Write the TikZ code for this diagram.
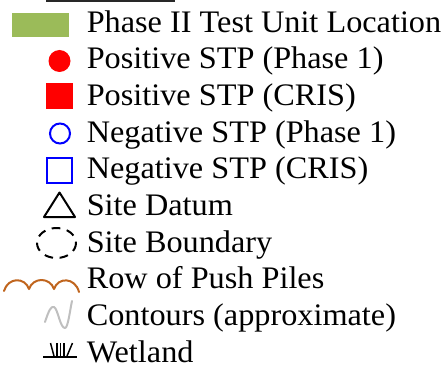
\documentclass[tikz,border=0pt]{standalone}
\usepackage{fontspec}
\setmainfont{Liberation Serif}[FakeStretch=1.03]
\usepackage{tikz}
\usepackage{xcolor}
\usetikzlibrary{shapes,positioning}
\definecolor{unitgreen}{RGB}{155, 187, 89}
\definecolor{pilebrown}{RGB}{192, 101, 30}
\definecolor{contourgray}{RGB}{191, 191, 191}
\definecolor{framegray}{RGB}{40, 40, 40}
\tikzstyle{legendtext} = [
    anchor=base west,
    inner sep=0pt,
    font=\fontsize{23.5}{28}\selectfont
]
\tikzstyle{dot} = [
    circle,
    inner sep=0pt,
    minimum size=16.5pt,
    fill=red
]
\tikzstyle{ring} = [
    circle,
    inner sep=0pt,
    minimum size=15pt,
    draw=blue,
    line width=1.5pt
]
\tikzstyle{block} = [
    rectangle,
    inner sep=0pt,
    minimum size=20pt,
    fill=red
]
\tikzstyle{openblock} = [
    rectangle,
    inner sep=0pt,
    minimum size=18.75pt,
    draw=blue,
    line width=1.5pt
]
\tikzstyle{sym} = [
    line width=1.5pt,
    line cap=round,
    line join=round
]

\begin{document}
\begin{tikzpicture}[x=0.75pt, y=-0.75pt]
    \useasboundingbox (0,0) rectangle (441,367);
    % frame edge left over at the top
    \draw[framegray, line width=1.5pt] (46,1.5) -- (175,1.5);

    % labels
    \foreach \t [count=\i] in {
        Phase II Test Unit Location,
        Positive STP (Phase 1),
        Positive STP (CRIS),
        Negative STP (Phase 1),
        Negative STP (CRIS),
        Site Datum,
        Site Boundary,
        Row of Push Piles,
        Contours (approximate),
        Wetland
    } {
        \node[legendtext] (lbl\i) at (86.5,{32.3+(\i-1)*36.67}) {\t};
    }

    % symbols
    \node[rectangle, inner sep=0pt, minimum width=42.75pt, minimum height=18pt,
        fill=unitgreen] (unit) at (40.5,25) {};
    \node[dot] (posphase) at (59.5,61) {};
    \node[block] (poscris) at (59.5,96) {};
    \node[ring] (negphase) at (60,133.5) {};
    \node[openblock] (negcris) at (59.5,170) {};
    \draw[sym] (59.5,192.5) -- (75,217) -- (44,217) -- cycle;
    \draw[sym, line cap=butt, dash pattern=on 6.5pt off 5pt]
        (56.5,243) ellipse [x radius=19.5, y radius=15];
    \draw[sym, pilebrown] (4,291) .. controls (8,277) and (25,277) .. (29,289)
        .. controls (33,277) and (50,277) .. (54,289)
        .. controls (58,277) and (75,277) .. (79,292);
    \draw[sym, contourgray] (45,322) .. controls (49,310) and (51,306) .. (54,307)
        .. controls (58,309) and (60,328) .. (65,328)
        .. controls (68,328) and (70,310) .. (72,301);
    % wetland mark
    \draw[line width=1.2pt] (43,357) -- (77,357);
    \foreach \a/\b in {54/50.5, 57/57, 60.5/60.5, 64/64, 67/72.5} {
        \draw[line width=1.1pt] (\a,356) -- (\b,343);
    }
\end{tikzpicture}
\end{document}
